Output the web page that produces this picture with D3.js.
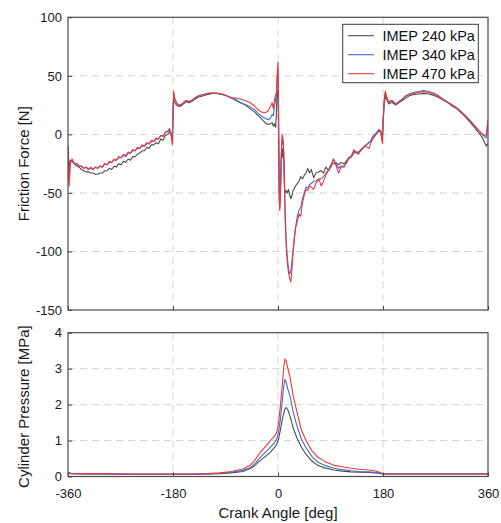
<!DOCTYPE html>
<html>
<head>
<meta charset="utf-8">
<script src="https://cdn.jsdelivr.net/npm/d3@7"></script>
<style>
body { margin: 0; background: #fff; }
svg { display: block; font-family: "Liberation Sans", Arial, sans-serif; }
</style>
</head>
<body>
<svg id="chart"></svg>
<script>
// crank angle [deg] for the friction traces
let frictionAngles = [
  -360, -358, -356, -353, -349, -345, -341, -337, -333, -329,
  -325, -321, -317, -313, -309, -305, -301, -297, -293, -289,
  -285, -281, -277, -273, -269, -265, -261, -257, -253, -249,
  -245, -241, -237, -233, -229, -225, -221, -217, -213, -209,
  -205, -201, -197, -193, -189, -186, -183, -181, -180, -179,
  -177, -174, -171, -167, -162, -157, -153, -148, -143, -136,
  -128, -120, -112, -104, -96, -88, -80, -72, -64, -56,
  -48, -40, -34, -28, -22, -17, -13, -10, -8, -6,
  -4, -3, -2, -1, 0, 1, 2, 3, 4, 5,
  6, 7, 8, 9, 10, 11, 12, 14, 16, 18,
  20, 22, 24, 26, 28, 30, 33, 36, 39, 42,
  45, 48, 51, 54, 57, 61, 65, 70, 74, 78,
  82, 87, 91, 95, 99, 104, 108, 113, 117, 121,
  126, 130, 134, 138, 142, 147, 151, 156, 160, 164,
  168, 173, 176, 179, 180, 182, 184, 186, 190, 193,
  196, 202, 207, 213, 219, 225, 233, 242, 250, 258,
  266, 274, 282, 290, 298, 306, 314, 322, 330, 338,
  345, 350, 354, 357, 359, 360
];

// friction force [N]
let friction240 = [
  -10, -30, -22, -23, -25, -27, -28, -30, -31, -32,
  -32, -33, -33, -34, -34, -33, -33, -31, -31, -29,
  -30, -27, -28, -25, -26, -23, -24, -21, -22, -19,
  -19, -17, -16, -14, -14, -11, -12, -9, -9, -7,
  -8, -4, -5, -1, 0, 2, 0, -5, 15, 30,
  27, 25, 24, 24, 26, 28, 27, 28, 30, 32,
  33, 34, 35, 35, 34, 33, 31, 29, 27, 25,
  22, 19, 16, 13, 10, 8.5, 9, 10, 7, 9,
  6, 15, 30, 35, 38, 0, -40, -48, -50, -30,
  -15, -20, -12, -18, -25, -45, -50, -48, -50, -47,
  -52, -55, -52, -48, -46, -44, -42, -40, -36, -38,
  -35, -33, -29, -33, -30, -37, -33, -32, -31, -33,
  -28, -31, -26, -25, -24, -26, -24, -25, -23, -20,
  -19, -16, -15, -15, -14, -11, -9, -7, -5, -1,
  0, 3, 2, -5, 8, 25, 33, 30, 26, 27,
  27, 25, 27, 29, 31, 33, 34, 34.5, 35, 34.5,
  33.5, 32, 29.5, 27.5, 24.5, 22, 18.5, 14.5, 10, 5,
  1, -2.5, -7, -10, -8, -9
];
let friction340 = [
  -10, -38, -24, -22, -25, -25, -27, -27, -29, -28,
  -30, -29, -30, -28, -29, -27, -28, -25, -26, -24,
  -24, -22, -22, -20, -20, -18, -19, -16, -16, -14,
  -14, -12, -12, -10, -10, -8, -8, -6, -6, -4,
  -4, -1, -1, 2, 3, 5, 1, -6, 18, 33,
  30, 27, 25, 25, 27, 29, 28, 29, 31, 33,
  34, 35, 35.5, 35, 34, 33, 31, 29.5, 27, 25.5,
  23.5, 21, 18, 15.5, 13.5, 12.5, 14, 17, 16, 24,
  30, 33, 40, 50, 55, 15, -50, -62, -55, -35,
  -15, -5, -5, -8, -20, -35, -60, -90, -105, -115,
  -119, -117, -108, -98, -88, -80, -70, -65, -62, -55,
  -50, -45, -46, -43, -42, -40, -40, -38, -38, -36,
  -33, -30, -26, -21, -25, -29, -27, -27, -25, -21,
  -18, -14, -15, -16, -13, -11, -9, -7, -5, -1,
  1, 4, 3, -6, 10, 28, 36, 32, 27, 29,
  28, 26, 28, 30, 33, 34.5, 36, 36.5, 37.5, 36.5,
  35.5, 33.5, 30.5, 28, 25.5, 23, 19.5, 15.5, 11, 6.5,
  2.5, 0, -2, -3, 5, 8
];
let friction470 = [
  -12, -44, -25, -21, -25, -25, -27, -27, -29, -28,
  -30, -28, -30, -28, -29, -27, -28, -25, -26, -23,
  -24, -21, -22, -19, -20, -17, -18, -15, -16, -13,
  -14, -11, -12, -9, -10, -7, -8, -5, -6, -3,
  -4, -1, -2, 2, 2, 4, -2, -9, 20, 37,
  31, 27, 25, 25, 27, 29, 28, 29, 31, 33,
  34, 35, 35, 35, 34.5, 33, 31.5, 31, 30, 29,
  27, 24, 21, 19, 18.5, 20, 24, 27, 22, 30,
  34, 33, 45, 55, 62, 20, -55, -65, -58, -30,
  -10, 0, -2, -5, -15, -40, -70, -95, -110, -118,
  -123, -126, -115, -100, -90, -80, -75, -68, -70, -58,
  -52, -47, -48, -44, -45, -47, -42, -38, -44, -40,
  -35, -30, -28, -21, -26, -33, -28, -28, -24, -21,
  -19, -13, -16, -17, -13, -11, -10, -12, -6, -3,
  0, 4, 3, -8, 10, 30, 37, 32, 27, 29,
  29, 26, 28, 30, 32.5, 34, 35, 36, 36.5, 36,
  34.5, 33, 30, 27.5, 25, 22.5, 19, 15.5, 11.5, 7,
  3, 0.5, -1, 0, 8, 12
];

// crank angle [deg] for the pressure traces
let pressureAngles = [
  -360, -355, -330, -300, -250, -200, -150, -120, -100, -80,
  -60, -48, -40, -30, -20, -13, -6, -2, 1, 4,
  7, 10, 12, 14, 17, 21, 26, 33, 40, 48,
  58, 68, 80, 96, 110, 125, 140, 155, 165, 172,
  178, 180, 220, 270, 320, 360
];
// cylinder pressure [MPa]
let pressure240 = [
  0.1, 0.08, 0.07, 0.07, 0.06, 0.06, 0.06, 0.07, 0.08, 0.1,
  0.14, 0.22, 0.3, 0.45, 0.58, 0.68, 0.8, 0.91, 1.05, 1.29,
  1.55, 1.77, 1.88, 1.92, 1.85, 1.66, 1.35, 1.05, 0.82, 0.62,
  0.43, 0.31, 0.24, 0.18, 0.15, 0.13, 0.12, 0.11, 0.1, 0.09,
  0.08, 0.07, 0.07, 0.07, 0.07, 0.07
];
let pressure340 = [
  0.1, 0.08, 0.07, 0.07, 0.06, 0.06, 0.06, 0.07, 0.09, 0.12,
  0.17, 0.24, 0.35, 0.54, 0.7, 0.82, 0.94, 1.05, 1.25, 1.57,
  2.05, 2.55, 2.7, 2.62, 2.42, 2.22, 1.8, 1.38, 1.05, 0.8,
  0.56, 0.4, 0.31, 0.23, 0.19, 0.16, 0.14, 0.13, 0.12, 0.1,
  0.08, 0.07, 0.07, 0.07, 0.07, 0.07
];
let pressure470 = [
  0.12, 0.09, 0.08, 0.08, 0.07, 0.07, 0.07, 0.08, 0.1, 0.14,
  0.21, 0.31, 0.45, 0.68, 0.86, 1.0, 1.12, 1.24, 1.5, 1.95,
  2.5, 3.06, 3.27, 3.22, 3.0, 2.73, 2.25, 1.76, 1.3, 1.0,
  0.72, 0.54, 0.42, 0.31, 0.27, 0.23, 0.2, 0.18, 0.16, 0.13,
  0.09, 0.07, 0.07, 0.07, 0.07, 0.07
];

let seriesNames = ["IMEP 240 kPa", "IMEP 340 kPa", "IMEP 470 kPa"];
let seriesColors = ["#4d4d4d", "#3b6fd4", "#ee3838"];
let xTicks = [-360, -180, 0, 180, 360];
let forceTicks = [100, 50, 0, -50, -100, -150];
let pressureTicks = [0, 1, 2, 3, 4];

let w = 501;
let h = 523;
let left = 68;
let right = 488;
let svg = d3.select("#chart").attr("width", w).attr("height", h);

let xScale = d3.scaleLinear().domain([-360, 360]).range([left, right]);
let yForce = d3.scaleLinear().domain([-150, 100]).range([310, 17.3]);
let yPressure = d3.scaleLinear().domain([0, 4]).range([476.5, 332.7]);

// plain hyphen minus, no decimals, like the original
let plainFormat = (d) => String(d);

let drawPanel = (yScale, yTicks, angles, seriesList, id, showXLabels) => {
  let y0 = yScale.range()[0];
  let y1 = yScale.range()[1];

  svg.append("clipPath").attr("id", id)
     .append("rect")
     .attr("x", left).attr("y", y1)
     .attr("width", right - left).attr("height", y0 - y1);

  // grid
  let grid = svg.append("g")
  grid.selectAll(".gx")
      .data(xTicks.filter((d) => d > -360 && d < 360))
      .enter().append("line")
      .attr("x1", (d) => xScale(d)).attr("x2", (d) => xScale(d))
      .attr("y1", y1).attr("y2", y0)
  grid.selectAll(".gy")
      .data(yTicks.filter((d) => yScale(d) > y1 + 1 && yScale(d) < y0 - 1))
      .enter().append("line")
      .attr("x1", left).attr("x2", right)
      .attr("y1", (d) => yScale(d)).attr("y2", (d) => yScale(d))
  grid.selectAll("line")
      .attr("stroke", "#d4d4d4")
      .attr("stroke-width", 1)
      .attr("stroke-dasharray", "7,5")

  // traces
  let line = d3.line()
               .x((d, i) => xScale(angles[i]))
               .y((d) => yScale(d))
  let g = svg.append("g").attr("clip-path", `url(#${id})`)
  seriesList.forEach((values, i) => {
    g.append("path")
     .attr("d", line(values))
     .attr("fill", "none")
     .attr("stroke", seriesColors[i])
     .attr("stroke-width", 1.1)
     .attr("stroke-linejoin", "round")
  })

  // axes
  let yAxis = svg.append("g")
     .attr("transform", `translate(${left}, 0)`)
     .call(d3.axisLeft(yScale).tickValues(yTicks).tickFormat(plainFormat).tickSize(-4).tickPadding(6))
  let xAxis = d3.axisBottom(xScale).tickValues(xTicks).tickSize(-4).tickPadding(12)
  xAxis.tickFormat(showXLabels ? plainFormat : "")
  let xg = svg.append("g")
     .attr("transform", `translate(0, ${y0})`)
     .call(xAxis)

  ;[yAxis, xg].forEach((a) => {
    a.select(".domain").remove()
    a.selectAll(".tick line").attr("stroke", "#444")
    a.selectAll("text")
     .attr("font-size", 13)
     .attr("font-family", "'Liberation Sans', Arial, sans-serif")
     .attr("fill", "#1a1a1a")
  })

  // frame
  svg.append("rect")
     .attr("x", left).attr("y", y1)
     .attr("width", right - left).attr("height", y0 - y1)
     .attr("fill", "none")
     .attr("stroke", "#4a4a4a")
     .attr("stroke-width", 1.2)
}

drawPanel(yForce, forceTicks, frictionAngles, [friction240, friction340, friction470], "clipTop", false)
drawPanel(yPressure, pressureTicks, pressureAngles, [pressure240, pressure340, pressure470], "clipBottom", true)

// axis titles
svg.append("text")
   .attr("transform", `translate(23, ${(17.3 + 310) / 2}) rotate(-90)`)
   .attr("text-anchor", "middle")
   .attr("dominant-baseline", "central")
   .attr("font-size", 15)
   .attr("fill", "#1a1a1a")
   .text("Friction Force [N]")
svg.append("text")
   .attr("transform", `translate(23, ${(332.7 + 476.5) / 2 + 2}) rotate(-90)`)
   .attr("text-anchor", "middle")
   .attr("dominant-baseline", "central")
   .attr("font-size", 15)
   .attr("fill", "#1a1a1a")
   .text("Cylinder Pressure [MPa]")
svg.append("text")
   .attr("x", (left + right) / 2)
   .attr("y", 518)
   .attr("text-anchor", "middle")
   .attr("font-size", 15)
   .attr("fill", "#1a1a1a")
   .text("Crank Angle [deg]")

// legend
let legend = svg.append("g")
legend.append("rect")
      .attr("x", 342.7).attr("y", 24.3)
      .attr("width", 135.6).attr("height", 58.4)
      .attr("fill", "#fff")
      .attr("stroke", "#3a3a3a")
      .attr("stroke-width", 1)
let rows = legend.selectAll(".row")
      .data(seriesNames)
      .enter().append("g")
      .attr("transform", (d, i) => `translate(0, ${35.7 + i * 19})`)
rows.append("line")
    .attr("x1", 348).attr("x2", 374)
    .attr("stroke", (d, i) => seriesColors[i])
    .attr("stroke-width", 1.1)
rows.append("text")
    .attr("x", 382.5)
    .attr("dominant-baseline", "central")
    .attr("font-size", 14.5)
    .attr("fill", "#111")
    .text((d) => d)
</script>
</body>
</html>
